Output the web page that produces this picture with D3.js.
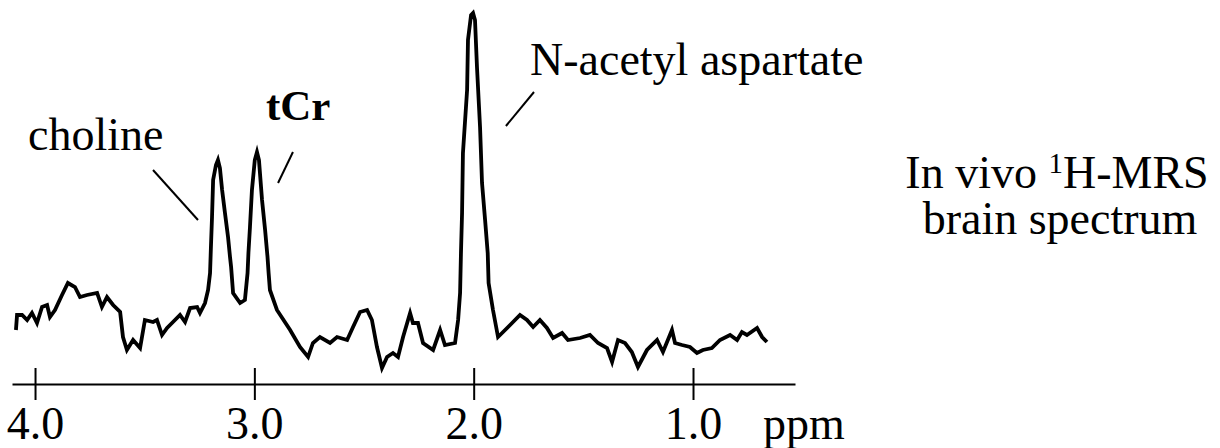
<!DOCTYPE html>
<html>
<head>
<meta charset="utf-8">
<script src="https://cdn.jsdelivr.net/npm/d3@7"></script>
<style>
  body { margin: 0; background: #fff; }
  svg text { font-family: "Liberation Serif", "Times New Roman", serif; fill: #000; }
</style>
</head>
<body>
<div id="chart"></div>
<script>
// Chemical shift (ppm) of each point of the trace
const ppm = [
  4.087, 4.082, 4.059, 4.036, 4.014, 3.991, 3.968, 3.945, 3.932, 3.909,
  3.877, 3.850, 3.818, 3.795, 3.763, 3.717, 3.695, 3.672, 3.644, 3.612,
  3.599, 3.581, 3.553, 3.521, 3.499, 3.462, 3.444, 3.421, 3.398, 3.371,
  3.339, 3.316, 3.293, 3.261, 3.248, 3.225, 3.211, 3.202, 3.198, 3.193,
  3.188, 3.175, 3.166, 3.157, 3.147, 3.134, 3.120, 3.111, 3.106, 3.097,
  3.065, 3.043, 3.031, 3.027, 3.020, 3.011, 2.998, 2.988, 2.979, 2.965,
  2.951, 2.940, 2.935, 2.929, 2.897, 2.837, 2.792, 2.755, 2.733, 2.701,
  2.655, 2.623, 2.577, 2.550, 2.518, 2.486, 2.464, 2.441, 2.418, 2.395,
  2.368, 2.345, 2.322, 2.290, 2.277, 2.254, 2.231, 2.185, 2.153, 2.131,
  2.085, 2.071, 2.062, 2.058, 2.053, 2.049, 2.030, 2.026, 2.012, 2.003,
  1.994, 1.985, 1.971, 1.962, 1.948, 1.936, 1.932, 1.912, 1.889, 1.866,
  1.825, 1.789, 1.757, 1.729, 1.698, 1.666, 1.638, 1.597, 1.570, 1.515,
  1.470, 1.433, 1.392, 1.369, 1.342, 1.310, 1.279, 1.251, 1.210, 1.164,
  1.137, 1.096, 1.082, 1.050, 1.014, 0.982, 0.955, 0.914, 0.877, 0.831,
  0.799, 0.777, 0.754, 0.708, 0.685, 0.663
];

// Signal intensity (arbitrary units)
const signal = [
  50, 65, 65, 60, 67, 57, 73, 75, 63, 70,
  85, 97, 93, 83, 85, 87, 73, 83, 75, 68,
  43, 30, 40, 32, 60, 58, 60, 45, 52, 58,
  65, 58, 72, 73, 67, 77, 90, 107, 133, 163,
  200, 215, 220, 212, 190, 167, 143, 123, 113, 87,
  77, 80, 107, 127, 153, 190, 220, 228, 220, 180,
  150, 123, 107, 90, 70, 50, 33, 23, 37, 43,
  37, 43, 40, 53, 68, 70, 60, 33, 12, 23,
  27, 23, 43, 67, 57, 57, 37, 30, 50, 35,
  37, 60, 87, 127, 167, 227, 290, 340, 365, 367,
  360, 313, 253, 197, 160, 127, 97, 70, 43, 48,
  57, 65, 60, 53, 60, 52, 42, 47, 40, 42,
  45, 37, 32, 18, 40, 37, 28, 13, 30, 40,
  28, 50, 37, 35, 33, 27, 30, 32, 40, 45,
  40, 48, 45, 52, 43, 38
];

const tickValues = [4.0, 3.0, 2.0, 1.0];
const axisUnit = "ppm";

// Peak labels with their pointer lines, in data units
const peakNames = ["choline", "tCr", "N-acetyl aspartate"];
const peakBold = [false, true, false];
const labelAt = [[4.032, 230], [2.947, 260], [1.743, 305]];
const pointerFrom = [[3.462, 210], [2.824, 228], [1.725, 288]];
const pointerTo = [[3.257, 160], [2.892, 197], [1.853, 254]];

const width = 1220;
const height = 448;

const svg = d3.select('#chart')
  .append('svg')
  .attr('width', width)
  .attr('height', height);

// ppm runs right to left
const x = d3.scaleLinear()
  .domain([4.105, 0.535])
  .range([12, 795]);

const y = d3.scaleLinear()
  .domain([0, 370])
  .range([380, 10]);

const axisY = 384;
const labelFont = '46px';

const axis = d3.axisBottom(x)
  .tickValues(tickValues)
  .tickFormat(d3.format('.1f'))
  .tickSizeOuter(0);

const gAxis = svg.append('g')
  .attr('transform', `translate(0,${axisY})`)
  .call(axis);

gAxis.select('.domain')
  .attr('stroke', '#000')
  .attr('stroke-width', 2);

gAxis.selectAll('.tick line')
  .attr('stroke', '#000')
  .attr('stroke-width', 2)
  .attr('y1', -16)
  .attr('y2', 16);

gAxis.selectAll('.tick text')
  .attr('y', 55)
  .attr('dy', 0)
  .style('font-family', '"Liberation Serif", "Times New Roman", serif')
  .style('font-size', labelFont)
  .attr('fill', '#000');

svg.append('text')
  .attr('x', 763)
  .attr('y', axisY + 55)
  .style('font-size', labelFont)
  .text(axisUnit);

// Spectrum trace
const points = ppm.map((p, i) => [p, signal[i]]);

const line = d3.line()
  .x(d => x(d[0]))
  .y(d => y(d[1]));

svg.append('path')
  .datum(points)
  .attr('fill', 'none')
  .attr('stroke', '#000')
  .attr('stroke-width', 3.8)
  .attr('stroke-linejoin', 'miter')
  .attr('d', line);

// Peak annotations
peakNames.forEach((name, i) => {
  svg.append('text')
    .attr('x', x(labelAt[i][0]))
    .attr('y', y(labelAt[i][1]))
    .style('font-size', peakBold[i] ? '43px' : labelFont)
    .style('font-weight', peakBold[i] ? 'bold' : 'normal')
    .text(name);

  svg.append('line')
    .attr('x1', x(pointerFrom[i][0]))
    .attr('y1', y(pointerFrom[i][1]))
    .attr('x2', x(pointerTo[i][0]))
    .attr('y2', y(pointerTo[i][1]))
    .attr('stroke', '#000')
    .attr('stroke-width', 2);
});

// Caption on the right
const caption = svg.append('text')
  .attr('x', 1057)
  .attr('y', 188)
  .attr('text-anchor', 'middle')
  .style('font-size', labelFont);

caption.append('tspan').text('In vivo ');
caption.append('tspan')
  .attr('dy', -15)
  .style('font-size', '29px')
  .text('1');
caption.append('tspan')
  .attr('dy', 15)
  .text('H-MRS');

svg.append('text')
  .attr('x', 1060)
  .attr('y', 234)
  .attr('text-anchor', 'middle')
  .style('font-size', labelFont)
  .text('brain spectrum');
</script>
</body>
</html>
